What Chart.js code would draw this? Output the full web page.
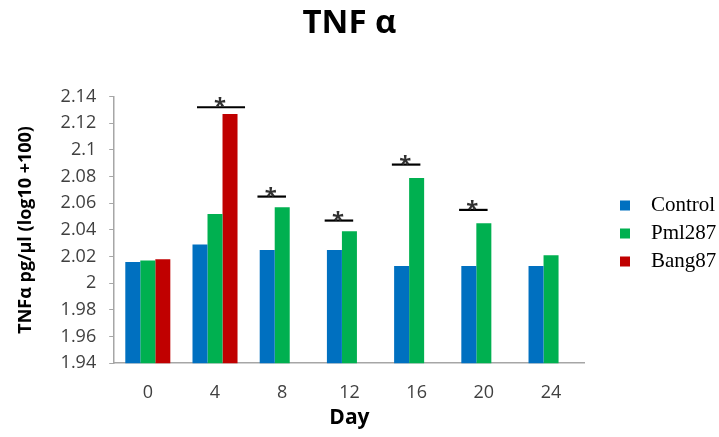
<!DOCTYPE html>
<html>
<head>
<meta charset="utf-8">
<script src="https://cdn.jsdelivr.net/npm/chart.js@4.4.0/dist/chart.umd.min.js"></script>
<style>
  html, body { margin: 0; padding: 0; background: #ffffff; }
  #wrap { width: 719px; height: 437px; }
</style>
</head>
<body>
<div id="wrap"><canvas id="c" width="719" height="437"></canvas></div>
<script>
// ---- data ----
const days = ['0', '4', '8', '12', '16', '20', '24'];
const controlValues = [2.016, 2.029, 2.025, 2.025, 2.013, 2.013, 2.013];
const pml287Values  = [2.017, 2.052, 2.057, 2.039, 2.079, 2.045, 2.021];
const bang87Values  = [2.018, 2.127, null, null, null, null, null];
// significance markers: category index and bracket level (y value)
const sigDayIndex = [1, 2, 3, 4, 5];
const sigLevel    = [2.132, 2.065, 2.047, 2.089, 2.055];

const FONT = "'Open Sans', 'DejaVu Sans', sans-serif";

const sigPlugin = {
  id: 'sigMarks',
  afterDatasetsDraw(chart) {
    const ctx = chart.ctx;
    const y = chart.scales.y;
    ctx.save();
    sigDayIndex.forEach((ci, k) => {
      const present = chart.data.datasets
        .map((ds, di) => ({ ds, el: chart.getDatasetMeta(di).data[ci] }))
        .filter(o => o.ds.data[ci] !== null && o.ds.data[ci] !== undefined);
      const first = present[0].el;
      const last = present[present.length - 1].el;
      const w = first.width;
      let x1, x2;
      if (present.length >= 3) { x1 = first.x - 0.2 * w; x2 = last.x + w; }
      else { x1 = first.x - 0.65 * w; x2 = last.x + 0.25 * w; }
      const py = y.getPixelForValue(sigLevel[k]);
      ctx.strokeStyle = '#000000';
      ctx.lineWidth = 2.2;
      ctx.beginPath();
      ctx.moveTo(x1, py);
      ctx.lineTo(x2, py);
      ctx.stroke();
      ctx.fillStyle = '#303030';
      ctx.font = 'bold 22px ' + FONT;
      ctx.textAlign = 'center';
      ctx.textBaseline = 'alphabetic';
      ctx.fillText('*', (x1 + x2) / 2 - 1, py + 6);
    });
    ctx.restore();
  }
};

// nudge the legend block to the right of the plot, as in the reference
const legendPlace = {
  id: 'legendPlace',
  afterLayout(chart) {
    const lg = chart.legend;
    if (!lg) return;
    const dx = 613 - lg.left;
    const dy = 18;
    lg.left += dx; lg.right += dx;
    lg.top += dy; lg.bottom += dy;
  }
};

new Chart(document.getElementById('c'), {
  type: 'bar',
  data: {
    labels: days,
    datasets: [
      { label: 'Control', data: controlValues, backgroundColor: '#0070C0' },
      { label: 'Pml287',  data: pml287Values,  backgroundColor: '#00B050' },
      { label: 'Bang87',  data: bang87Values,  backgroundColor: '#C00000' }
    ]
  },
  options: {
    responsive: false,
    animation: false,
    devicePixelRatio: 1,
    layout: { padding: { left: 15, right: 21, top: 0, bottom: 6 } },
    datasets: { bar: { categoryPercentage: 0.67, barPercentage: 1.0, borderWidth: 0 } },
    plugins: {
      title: {
        display: true,
        fullSize: false,
        text: 'TNF α',
        color: '#000000',
        font: { family: FONT, size: 33, weight: 'bold' },
        padding: { top: 4, bottom: 53 }
      },
      legend: {
        position: 'right',
        align: 'center',
        labels: {
          boxWidth: 10,
          boxHeight: 10,
          color: '#000000',
          font: { family: "'Liberation Serif', 'Times New Roman', serif", size: 21 },
          padding: 7,
          generateLabels(chart) {
            const items = Chart.defaults.plugins.legend.labels.generateLabels(chart);
            items.forEach(it => { it.text = '\u00a0\u00a0' + it.text; it.lineWidth = 0; });
            return items;
          }
        }
      },
      tooltip: { enabled: false }
    },
    scales: {
      x: {
        grid: { display: true, drawOnChartArea: false, drawTicks: false, color: '#a6a6a6' },
        border: { display: true, color: '#a6a6a6', width: 1.5 },
        ticks: { color: '#404040', font: { family: FONT, size: 18 }, padding: 19 },
        title: { display: true, text: 'Day', color: '#000000', font: { family: FONT, size: 21, weight: 'bold' }, padding: { top: -17, bottom: 0 } }
      },
      y: {
        min: 1.94,
        max: 2.14,
        grid: { display: true, drawOnChartArea: false, drawTicks: true, tickLength: 5, color: '#a6a6a6' },
        border: { display: true, color: '#a6a6a6', width: 1.5 },
        ticks: {
          stepSize: 0.02,
          color: '#404040',
          font: { family: FONT, size: 18 },
          padding: 13,
          callback: (v) => String(parseFloat(Number(v).toFixed(2)))
        },
        title: { display: true, text: 'TNFα pg/µl (log10 +100)', color: '#000000', font: { family: FONT, size: 18, weight: 'bold' }, padding: { top: 0, bottom: 11 } }
      }
    }
  },
  plugins: [sigPlugin, legendPlace]
});
</script>
</body>
</html>
